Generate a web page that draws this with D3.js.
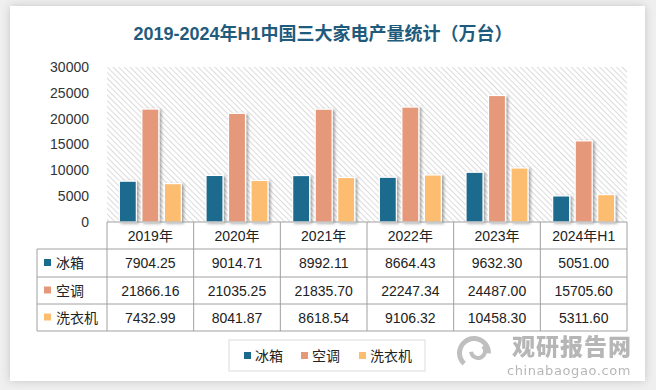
<!DOCTYPE html>
<html><head><meta charset="utf-8">
<script src="https://cdn.jsdelivr.net/npm/d3@7"></script>
<style>
html,body{margin:0;padding:0;background:#efefef;}
svg{display:block;}
</style></head>
<body>
<svg id="c" width="656" height="390"></svg>
<script>
const categories = ["2019年","2020年","2021年","2022年","2023年","2024年H1"];
const seriesNames = ["冰箱","空调","洗衣机"];
const fridge = [7904.25, 9014.71, 8992.11, 8664.43, 9632.30, 5051.00];
const aircon = [21866.16, 21035.25, 21835.70, 22247.34, 24487.00, 15705.60];
const washer = [7432.99, 8041.87, 8618.54, 9106.32, 10458.30, 5311.60];
const yTicks = [0, 5000, 10000, 15000, 20000, 25000, 30000];
const colors = ["#1a6a8e", "#e5997a", "#fdbd6f"];
const seriesValues = [fridge, aircon, washer];

const svg = d3.select("#c");
const defs = svg.append("defs");
const cardF = defs.append("filter").attr("id","cardShadow").attr("x","-5%").attr("y","-5%").attr("width","110%").attr("height","110%");
cardF.append("feDropShadow").attr("dx",0).attr("dy",0).attr("stdDeviation",4).attr("flood-color","#000").attr("flood-opacity",0.18);
const barF = defs.append("filter").attr("id","barShadow").attr("x","-30%").attr("y","-10%").attr("width","160%").attr("height","120%");
barF.append("feDropShadow").attr("dx",2).attr("dy",1).attr("stdDeviation",1.6).attr("flood-color","#000").attr("flood-opacity",0.35);
const pat = defs.append("pattern").attr("id","hatch").attr("patternUnits","userSpaceOnUse")
  .attr("width",4).attr("height",4).attr("patternTransform","rotate(-45)");
pat.append("rect").attr("width",4).attr("height",4).attr("fill","#ffffff");
pat.append("line").attr("x1",0).attr("y1",0).attr("x2",0).attr("y2",4).attr("stroke","#cfcfcf").attr("stroke-width",1.5);

// card
svg.append("rect").attr("x",10).attr("y",6).attr("width",635).attr("height",375).attr("fill","#fff").attr("filter","url(#cardShadow)");

// title
svg.append("text").attr("x",323).attr("y",40).attr("text-anchor","middle")
  .attr("font-family","'Liberation Sans Narrow','Liberation Sans','Noto Sans CJK SC',sans-serif")
  .attr("font-size",18).attr("font-weight","bold").attr("fill","#1f5b7c")
  .text("2019-2024年H1中国三大家电产量统计（万台）");

const pLeft = 107, pRight = 627, pTop = 67, pBottom = 222;
const x = d3.scaleBand().domain(categories).range([pLeft, pRight]);
const xs = d3.scaleBand().domain(seriesNames).range([-31, 31]).paddingInner(0.244);
const y = d3.scaleLinear().domain([0, 30000]).range([pBottom, pTop]);

svg.append("rect").attr("x",pLeft).attr("y",pTop).attr("width",pRight-pLeft).attr("height",pBottom-pTop).attr("fill","url(#hatch)");

const font = "'Liberation Sans','Noto Sans CJK SC',sans-serif";
// y axis
const yAxis = d3.axisLeft(y).tickValues(yTicks).tickSize(0).tickPadding(0).tickFormat(d3.format("d"));
const ya = svg.append("g").attr("transform",`translate(89,0)`).call(yAxis);
ya.select(".domain").remove();
ya.selectAll("text").attr("font-family",font).attr("font-size",14).attr("fill","#333");

// bars
const bars = svg.append("g").attr("filter","url(#barShadow)");
seriesNames.forEach((s, si) => {
  bars.selectAll(null).data(categories).enter().append("rect")
    .attr("x", (c) => x(c) + x.bandwidth()/2 + xs(s))
    .attr("width", xs.bandwidth())
    .attr("y", (c, i) => y(seriesValues[si][i]))
    .attr("height", (c, i) => pBottom - y(seriesValues[si][i]))
    .attr("fill", colors[si]).attr("stroke","#fff").attr("stroke-width",1.2);
});

// table
const rowY = [222, 249, 277, 304, 331];
const tableLeft = 37;
const lc = "#a0a0a0";
const tg = svg.append("g");
tg.append("line").attr("x1",pLeft).attr("x2",pRight).attr("y1",pBottom).attr("y2",pBottom).attr("stroke",lc);
[249, 277, 304, 331].forEach(yy => tg.append("line").attr("x1",tableLeft).attr("x2",pRight).attr("y1",yy).attr("y2",yy).attr("stroke",lc));
const colEdges = categories.map(c => x(c)).concat([pRight]);
colEdges.forEach(xx => tg.append("line").attr("x1",xx).attr("x2",xx).attr("y1",222).attr("y2",331).attr("stroke",lc));
tg.append("line").attr("x1",tableLeft).attr("x2",tableLeft).attr("y1",249).attr("y2",331).attr("stroke",lc);

tg.selectAll(null).data(categories).enter().append("text")
  .attr("x", c => x(c) + x.bandwidth()/2).attr("y", 241)
  .attr("text-anchor","middle").attr("font-family",font).attr("font-size",14).attr("fill","#222")
  .text(c => c);

seriesNames.forEach((s, si) => {
  const cy = (rowY[si+1] + rowY[si+2]) / 2;
  tg.append("rect").attr("x",44).attr("y",cy-4).attr("width",7).attr("height",7).attr("fill",colors[si]);
  tg.append("text").attr("x",56).attr("y",cy+5).attr("font-family",font).attr("font-size",14).attr("fill","#222").text(s);
  tg.selectAll(null).data(categories).enter().append("text")
    .attr("x", c => x(c) + x.bandwidth()/2).attr("y", cy+5)
    .attr("text-anchor","middle").attr("font-family",font).attr("font-size",14).attr("fill","#222")
    .text((c, i) => seriesValues[si][i].toFixed(2));
});

// legend
const lg = svg.append("g");
lg.append("rect").attr("x",229).attr("y",340).attr("width",196).attr("height",31).attr("fill","#fff").attr("stroke","#dcdcdc");
const legX = [244, 301, 359];
seriesNames.forEach((s, si) => {
  lg.append("rect").attr("x",legX[si]).attr("y",352).attr("width",7).attr("height",7).attr("fill",colors[si]);
  lg.append("text").attr("x",legX[si]+11).attr("y",361).attr("font-family",font).attr("font-size",14).attr("fill","#222").text(s);
});

// watermark
const wm = svg.append("g").attr("opacity",0.8);
wm.append("path").attr("d", d3.arc()({innerRadius:12, outerRadius:17, startAngle:-2.4, endAngle:1.6})).attr("transform","translate(474,353)").attr("fill","#b0b0b0");
wm.append("path").attr("d", d3.arc()({innerRadius:5, outerRadius:9, startAngle:0.8, endAngle:4.6})).attr("transform","translate(478,351)").attr("fill","#b0b0b0");
wm.append("text").attr("x",572).attr("y",355).attr("text-anchor","middle").attr("font-family","'Noto Sans CJK SC',sans-serif")
  .attr("font-size",23).attr("font-weight","900").attr("fill","#a5a5a5").attr("letter-spacing",1).text("观研报告网");
wm.append("text").attr("x",569).attr("y",375).attr("text-anchor","middle").attr("font-family","'DejaVu Sans',sans-serif")
  .attr("font-size",13).attr("fill","#a5a5a5").attr("letter-spacing",0.6).text("chinabaogao.com");
</script>
</body></html>
